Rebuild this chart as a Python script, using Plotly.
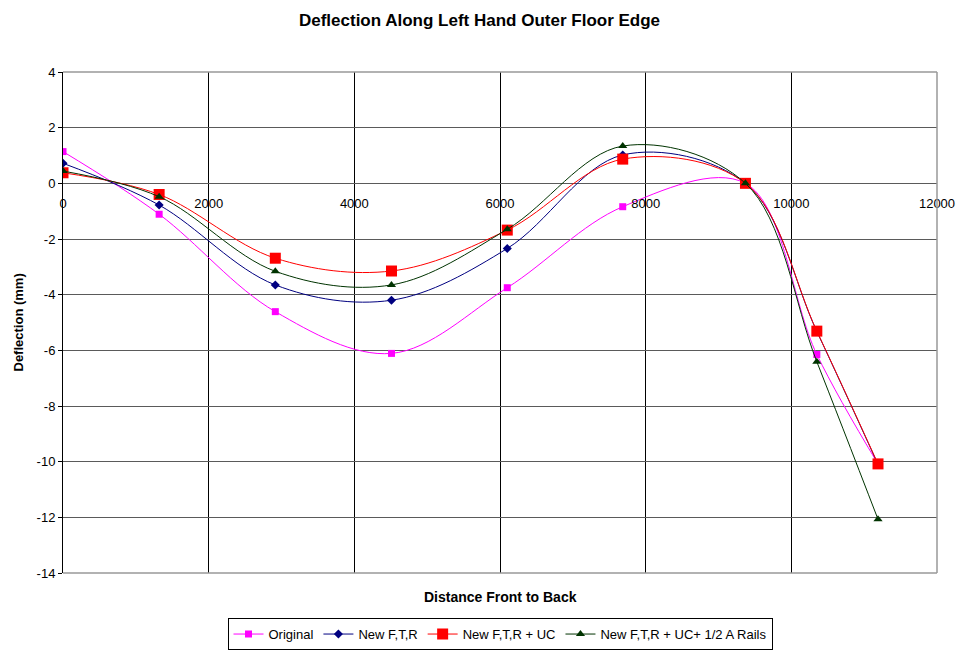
import plotly.graph_objects as go

# Measurement positions along the floor edge (mm from front)
distance = [0, 1320, 2915, 4510, 6100, 7685, 9370, 10350, 11190]

# Deflection (mm) for each configuration
original = [1.14, -1.11, -4.61, -6.11, -3.75, -0.84, 0.0, -6.15, -10.08]
new_ftr = [0.72, -0.78, -3.65, -4.20, -2.34, 1.02, 0.0, -5.32, -10.10]
new_ftr_uc = [0.38, -0.40, -2.69, -3.15, -1.68, 0.87, 0.0, -5.31, -10.08]
new_ftr_uc_rails = [0.44, -0.48, -3.16, -3.65, -1.65, 1.34, 0.0, -6.41, -12.07]

x_ticks = [0, 2000, 4000, 6000, 8000, 10000, 12000]
y_ticks = [4, 2, 0, -2, -4, -6, -8, -10, -12, -14]

FONT = "Arial, Liberation Sans, sans-serif"

series = [
    ("Original", original, "#FF00FF", "square", 7),
    ("New F,T,R", new_ftr, "#000080", "diamond", 7),
    ("New F,T,R + UC", new_ftr_uc, "#FF0000", "square", 11),
    ("New F,T,R + UC+ 1/2 A Rails", new_ftr_uc_rails, "#003300", "triangle-up", 8),
]

fig = go.Figure()
for name, vals, color, symbol, size in series:
    fig.add_trace(go.Scatter(
        x=distance, y=vals, name=name, mode="lines+markers",
        line=dict(color=color, width=1, shape="spline", smoothing=1.0),
        marker=dict(symbol=symbol, size=size, color=color,
                    line=dict(width=0)),
    ))

fig.update_layout(
    width=959, height=650,
    margin=dict(l=63, r=22, t=72, b=77, autoexpand=False),
    paper_bgcolor="white", plot_bgcolor="white",
    font=dict(family=FONT, size=13, color="#000000"),
    title=dict(text="<b>Deflection Along Left Hand Outer Floor Edge</b>",
               x=0.5, xref="container", xanchor="center",
               y=1 - 20 / 650, yref="container", yanchor="middle",
               font=dict(family=FONT, size=17, color="#000000")),
    showlegend=True,
    legend=dict(orientation="h", x=0.5, xanchor="center",
                y=-0.09, yanchor="top",
                bordercolor="#000000", borderwidth=1,
                font=dict(family=FONT, size=13, color="#000000"),
                itemwidth=30, tracegroupgap=0),
)

fig.update_xaxes(
    range=[0, 12000], tickvals=x_ticks, ticktext=[str(v) for v in x_ticks],
    showgrid=True, gridcolor="#000000", gridwidth=1,
    zeroline=False, showline=False, ticks="",
    anchor="free", position=14 / 18, ticklabelstandoff=11,
    tickfont=dict(family=FONT, size=13, color="#000000"),
)
fig.update_yaxes(
    range=[-14, 4], tickvals=y_ticks, ticktext=[str(v) for v in y_ticks],
    showgrid=True, gridcolor="#5a5a5a", gridwidth=1,
    zeroline=False, showline=True, linecolor="#000000", linewidth=1,
    ticks="outside", ticklen=4, tickcolor="#000000",
    tickfont=dict(family=FONT, size=13, color="#000000"),
)

# Plot-area frame on the top, right and bottom edges
for x0, y0, x1, y1 in [(0, 1, 1, 1), (1, 0, 1, 1), (0, 0, 1, 0)]:
    fig.add_shape(type="line", xref="paper", yref="paper",
                  x0=x0, y0=y0, x1=x1, y1=y1,
                  line=dict(color="#999999", width=1.5), layer="above")

fig.add_annotation(text="<b>Distance Front to Back</b>", xref="paper", yref="paper",
                   x=0.5, y=-24 / 501, xanchor="center", yanchor="middle",
                   showarrow=False, font=dict(family=FONT, size=14, color="#000000"))
fig.add_annotation(text="<b>Deflection (mm)</b>", xref="paper", yref="paper",
                   x=-45 / 874, y=0.5, xanchor="center", yanchor="middle",
                   textangle=-90, showarrow=False,
                   font=dict(family=FONT, size=13, color="#000000"))

fig.write_html("out.html")
